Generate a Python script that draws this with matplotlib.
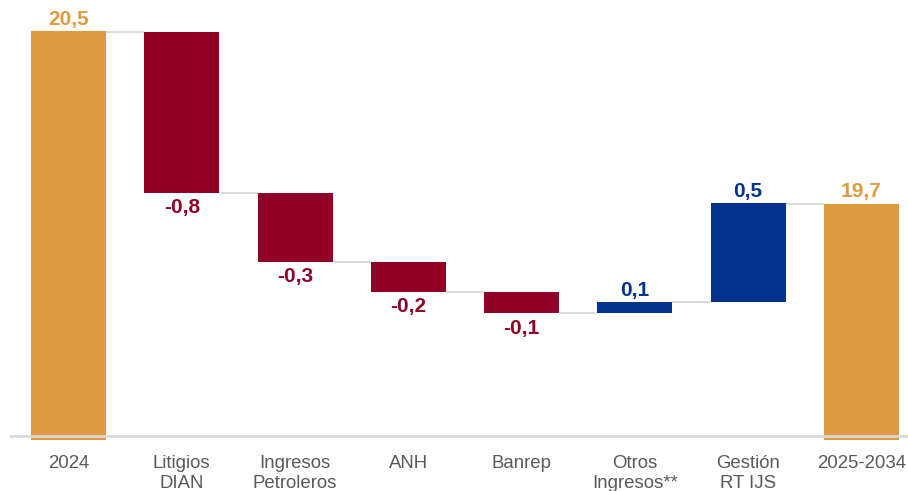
import matplotlib
matplotlib.use("Agg")
import matplotlib.pyplot as plt
import numpy as np

categories = ["2024", "Litigios\nDIAN", "Ingresos\nPetroleros", "ANH", "Banrep",
              "Otros\nIngresos**", "Gestión\nRT IJS", "2025-2034"]
start_value = 20.5
deltas = [-0.75, -0.32, -0.14, -0.10, 0.05, 0.46]
end_value = 19.7
value_labels = ["20,5", "-0,8", "-0,3", "-0,2", "-0,1", "0,1", "0,5", "19,7"]

ORANGE = "#E09A42"
RED = "#910026"
BLUE = "#03338A"
GRAY_TXT = "#595959"
LINE = "#D9D9D9"

plt.rcParams['font.family'] = ['Liberation Sans', 'DejaVu Sans']

fig = plt.figure(figsize=(9.08, 4.91), dpi=100)
ax = fig.add_axes([0, 51/491, 1, 440/491])

y0 = 18.6
ax.set_ylim(y0, y0 + 440/215)
ax.set_xlim(-0.6048, 7.412)
width = 0.662

x = np.arange(len(categories))
bottoms, heights, colors = [], [], []
bottoms.append(y0); heights.append(start_value - y0); colors.append(ORANGE)
running = start_value
levels = [start_value]
for d in deltas:
    new = running + d
    bottoms.append(min(running, new))
    heights.append(abs(d))
    colors.append(RED if d < 0 else BLUE)
    running = new
    levels.append(running)
bottoms.append(y0); heights.append(end_value - y0); colors.append(ORANGE)
levels.append(end_value)

ax.bar(x, heights, bottom=bottoms, width=width, color=colors, zorder=2, linewidth=0)

for i in range(len(categories) - 1):
    lvl = levels[i]
    ax.plot([x[i] + width/2, x[i+1] - width/2], [lvl, lvl], color=LINE, lw=1.3, zorder=1,
            solid_capstyle='butt')

ax.axhline(y0 + 4/215, xmin=11/908, xmax=1, color=LINE, lw=2, zorder=3)

FS = 15
for i in range(len(categories)):
    if i == 0 or i == len(categories) - 1:
        top = bottoms[i] + heights[i]
        ax.annotate(value_labels[i], (x[i], top), xytext=(0, 2), textcoords='offset points',
                    ha='center', va='bottom', fontsize=FS, fontweight='bold', color=ORANGE)
    else:
        d = deltas[i-1]
        if d < 0:
            ax.annotate(value_labels[i], (x[i], bottoms[i]), xytext=(0, -4), textcoords='offset points',
                        ha='center', va='top', fontsize=FS, fontweight='bold', color=RED)
        else:
            ax.annotate(value_labels[i], (x[i], bottoms[i] + heights[i]), xytext=(0, 2),
                        textcoords='offset points', ha='center', va='bottom',
                        fontsize=FS, fontweight='bold', color=BLUE)

ax.set_xticks(x)
ax.set_xticklabels(categories, fontsize=13.4, color=GRAY_TXT, linespacing=1.2, va='top')
ax.tick_params(axis='x', length=0, pad=11)
ax.set_yticks([])
for s in ax.spines.values():
    s.set_visible(False)

fig.savefig("out.png", dpi=100)
